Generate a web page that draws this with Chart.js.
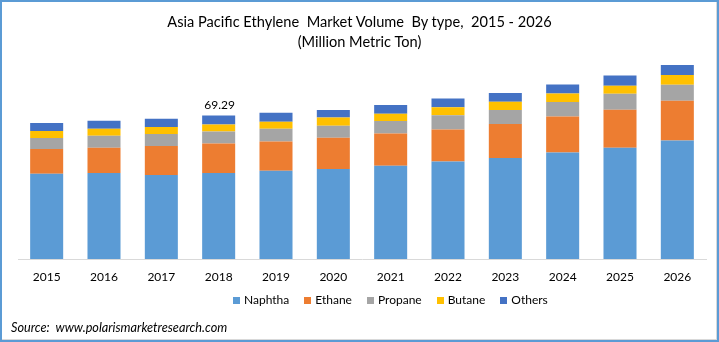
<!DOCTYPE html>
<html>
<head>
<meta charset="utf-8">
<script src="https://cdn.jsdelivr.net/npm/chart.js@4/dist/chart.umd.min.js"></script>
<style>
  html, body { margin: 0; padding: 0; background: #fff; }
  #wrap { position: relative; width: 719px; height: 342px; font-family: Lato, "Open Sans", sans-serif; color: #000; }
  #chart { position: absolute; left: 0; top: 0; }
  .title { position: absolute; left: 0; width: 719px; text-align: center; font-size: 14.6px; }
  #legend { position: absolute; left: 233px; top: 293px; display: flex; font-size: 12px; line-height: 14px; }
  #legend span.item { display: flex; align-items: center; margin-right: 15px; }
  #legend i { display: inline-block; width: 7px; height: 7px; margin-right: 4px; }
  #source { position: absolute; left: 11px; top: 319px; font-size: 12.7px; font-style: italic; }
  #frame { position: absolute; left: 0; top: 0; width: 715px; height: 338px; border: 2px solid #5b9bd5; box-shadow: inset -1px -1px 0 #d9d9d9; pointer-events: none; }
</style>
</head>
<body>
<div id="wrap">
  <canvas id="chart" width="719" height="342"></canvas>
  <div class="title" style="top:13px">Asia Pacific Ethylene&nbsp; Market Volume&nbsp; By type,&nbsp; 2015 - 2026</div>
  <div class="title" style="top:33px">(Million Metric Ton)</div>
  <div id="legend"></div>
  <div id="source">Source:&nbsp; www.polarismarketresearch.com</div>
  <div id="frame"></div>
</div>
<script>
// DATA
const years = ["2015", "2016", "2017", "2018", "2019", "2020", "2021", "2022", "2023", "2024", "2025", "2026"];
const naphtha = [41.2, 41.6, 40.6, 41.6, 42.6, 43.5, 45.1, 47.1, 48.8, 51.4, 53.7, 57.2];
const ethane = [11.9, 12.2, 14.0, 14.2, 14.2, 15.1, 15.5, 15.5, 16.4, 17.4, 18.4, 19.3];
const propane = [5.3, 5.7, 5.8, 5.8, 6.1, 5.8, 6.1, 6.8, 6.8, 7.1, 7.7, 7.7];
const butane = [3.4, 3.4, 3.4, 3.4, 3.4, 3.9, 3.5, 3.9, 4.0, 4.0, 3.9, 4.7];
const others = [3.9, 3.9, 3.9, 4.3, 4.4, 3.7, 4.2, 4.2, 4.2, 4.4, 5.0, 4.8];
const totalLabels = ["", "", "", "69.29", "", "", "", "", "", "", "", ""];

const seriesNames = ["Naphtha", "Ethane", "Propane", "Butane", "Others"];
const seriesColors = ["#5b9bd5", "#ed7d31", "#a5a5a5", "#ffc000", "#4472c4"];
const seriesData = [naphtha, ethane, propane, butane, others];

// LEGEND (html)
const legend = document.getElementById("legend");
seriesNames.forEach((name, i) => {
  const item = document.createElement("span");
  item.className = "item";
  item.innerHTML = '<i style="background:' + seriesColors[i] + '"></i>' + name;
  legend.appendChild(item);
});

// label on top of the stack
const topLabels = {
  id: "topLabels",
  afterDatasetsDraw(chart) {
    const ctx = chart.ctx;
    const meta = chart.getDatasetMeta(chart.data.datasets.length - 1);
    ctx.save();
    ctx.font = "12px Lato";
    ctx.fillStyle = "#000";
    ctx.textAlign = "center";
    ctx.textBaseline = "bottom";
    meta.data.forEach((bar, i) => {
      if (totalLabels[i]) ctx.fillText(totalLabels[i], bar.x + 1, bar.y - 4);
    });
    ctx.restore();
  },
};

new Chart(document.getElementById("chart"), {
  type: "bar",
  data: {
    labels: years,
    datasets: seriesData.map((d, i) => ({
      label: seriesNames[i],
      data: d,
      backgroundColor: seriesColors[i],
      borderWidth: 0,
      barPercentage: 0.576,
      categoryPercentage: 1,
    })),
  },
  options: {
    responsive: false,
    animation: false,
    layout: { padding: { left: 18, right: 13, top: 52, bottom: 0 } },
    plugins: {
      legend: { display: false },
      title: { display: false },
      tooltip: { enabled: false },
    },
    scales: {
      x: {
        stacked: true,
        grid: { display: false, drawTicks: false },
        border: { display: true, color: "#d9d9d9", width: 1 },
        ticks: { color: "#000", font: { family: "Lato", size: 12 }, padding: 11 },
        afterFit: (s) => { s.height = 83; },
      },
      y: {
        stacked: true,
        display: false,
        min: 0,
        max: 100,
      },
    },
  },
  plugins: [topLabels],
});
</script>
</body>
</html>
